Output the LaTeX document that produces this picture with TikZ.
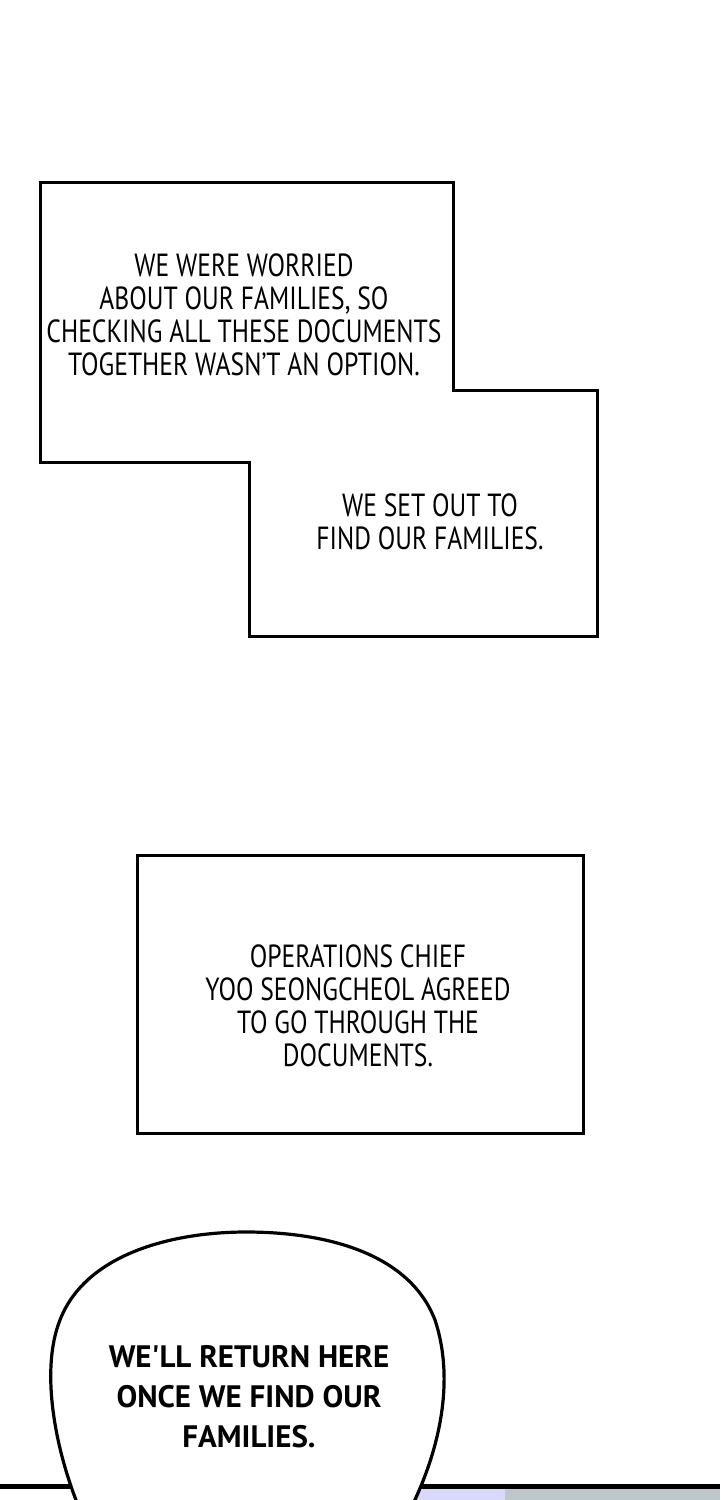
\documentclass[tikz,border=0pt]{standalone}
\usepackage{fontspec}
\setmainfont[FakeStretch=0.8]{PT Sans}
\newfontfamily\bubfont{PT Sans}
\begin{document}
\begin{tikzpicture}[x=0.5pt,y=-0.5pt,
  box/.style={draw=black,line width=1.5pt,fill=white,line join=miter},
  captxt/.style={align=center,font=\fontsize{16}{16.5}\selectfont,inner sep=0pt},
  bub/.style={align=center,font=\bubfont\bfseries\fontsize{15.5}{20}\selectfont,inner sep=0pt}]
\useasboundingbox (0,0) rectangle (720,1500);
\clip (0,0) rectangle (720,1500);
\fill[white] (0,0) rectangle (720,1500);
% bottom panel
\fill[black] (0,1484) rectangle (720,1489);
\fill[black!10!blue!15!white] (400,1489) rectangle (505,1500);
\fill[black!75!cyan!30] (505,1489) rectangle (720,1500);
% box 1
\draw[box] (40,182) -- (453,182) -- (453,390) -- (597,390) -- (597,636) -- (249,636) -- (249,462) -- (40,462) -- cycle;
\node[captxt] (t1) at (244,315) {WE WERE WORRIED\\ABOUT OUR FAMILIES, SO\\CHECKING ALL THESE DOCUMENTS\\TOGETHER WASN'T AN OPTION.};
\node[captxt] (t2) at (430,522) {WE SET OUT TO\\FIND OUR FAMILIES.};
% box 2
\draw[box] (137,855) rectangle (583,1133);
\node[captxt] (t3) at (358,1006) {OPERATIONS CHIEF\\YOO SEONGCHEOL AGREED\\TO GO THROUGH THE\\DOCUMENTS.};
% bubble
\draw[box,line width=1.6pt] (80,1510) .. controls (55,1450) and (40,1370) .. (60,1320)
  .. controls (85,1255) and (170,1232) .. (246,1232)
  .. controls (330,1232) and (410,1255) .. (435,1320)
  .. controls (455,1380) and (440,1450) .. (410,1510);
\node[bub] (t4) at (249,1397) {WE'LL RETURN HERE\\ONCE WE FIND OUR\\FAMILIES.};
\end{tikzpicture}
\end{document}
